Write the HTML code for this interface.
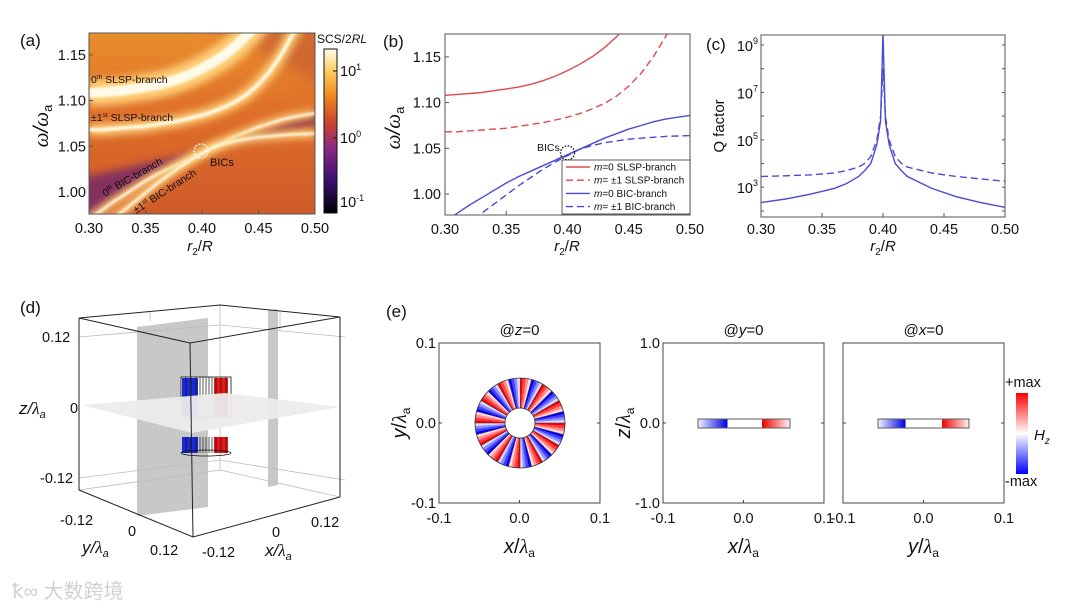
<!DOCTYPE html>
<html><head><meta charset="utf-8">
<style>
html,body{margin:0;padding:0;background:#fff;}
svg{display:block;font-family:"Liberation Sans","Noto Sans CJK SC",sans-serif;}
.t{font-size:14.5px;fill:#111}
.lab{font-size:17px;fill:#111}
.it{font-style:italic}
</style></head>
<body>
<svg id="fig" width="1080" height="608" viewBox="0 0 1080 608" xmlns="http://www.w3.org/2000/svg">
<defs>
<linearGradient id="bgA" x1="0" y1="0" x2="0" y2="1">
<stop offset="0" stop-color="#ea8e2c"/><stop offset="0.45" stop-color="#de6e28"/><stop offset="1" stop-color="#cf5a2a"/>
</linearGradient>
<linearGradient id="cbA" x1="0" y1="1" x2="0" y2="0">
<stop offset="0" stop-color="#000004"/><stop offset="0.2" stop-color="#3b0f6f"/><stop offset="0.4" stop-color="#8c2981"/><stop offset="0.55" stop-color="#c9442e"/><stop offset="0.72" stop-color="#f08a1f"/><stop offset="0.88" stop-color="#fcd36a"/><stop offset="1" stop-color="#fffdf0"/>
</linearGradient>
<linearGradient id="cbE" x1="0" y1="0" x2="0" y2="1">
<stop offset="0" stop-color="#ff0000"/><stop offset="0.5" stop-color="#ffffff"/><stop offset="1" stop-color="#0000ff"/>
</linearGradient>
<linearGradient id="blueBar" x1="0" y1="0" x2="1" y2="0"><stop offset="0" stop-color="#eef0ff"/><stop offset="1" stop-color="#0000e0"/></linearGradient>
<linearGradient id="redBar" x1="0" y1="0" x2="1" y2="0"><stop offset="0" stop-color="#f00000"/><stop offset="1" stop-color="#fff0f0"/></linearGradient>
<filter id="blur4" x="-20%" y="-20%" width="140%" height="140%"><feGaussianBlur stdDeviation="4"/></filter>
<filter id="blur8" x="-30%" y="-30%" width="160%" height="160%"><feGaussianBlur stdDeviation="8"/></filter>
<filter id="blur1"><feGaussianBlur stdDeviation="1"/></filter>
<clipPath id="clipA"><rect x="89" y="33" width="226" height="181"/></clipPath>
<clipPath id="clipB"><rect x="445" y="34" width="245" height="181"/></clipPath>
<clipPath id="clipC"><rect x="761" y="35" width="244" height="182"/></clipPath>
</defs>

<text x="20" y="46" class="lab">(a)</text>
<text x="383" y="47" class="lab">(b)</text>
<text x="706" y="50" class="lab">(c)</text>
<text x="20" y="313" class="lab">(d)</text>
<text x="386" y="317" class="lab">(e)</text>

<g id="panelA"></g>
<g id="panelB"></g>
<g id="panelC"></g>

<g id="panelD">
<polygon points="137,327 208,318 208,507 137,516" fill="#c8c8c8"/>
<polygon points="268,310 278,309 278,485 268,487" fill="#c8c8c8"/>
<g stroke="#bbb" stroke-width="0.8" fill="none">
<line x1="220" y1="305" x2="220" y2="470"/><line x1="79" y1="490" x2="220" y2="470"/><line x1="220" y1="470" x2="340" y2="497"/>
<line x1="79" y1="337" x2="220" y2="325"/><line x1="220" y1="325" x2="345" y2="337"/>
<line x1="79" y1="478" x2="220" y2="460"/><line x1="220" y1="460" x2="345" y2="480"/>
<line x1="150" y1="311" x2="150" y2="321"/><line x1="280" y1="311" x2="280" y2="330"/>
</g>
<g>
<rect x="181" y="377" width="50" height="40" fill="#fff" stroke="#111" stroke-width="0.8"/>
<rect x="182" y="378" width="16" height="38" fill="#1a2ad8"/>
<rect x="214" y="378" width="14" height="38" fill="#e81818"/>
<rect x="182" y="437" width="16" height="16" fill="#1a2ad8"/>
<rect x="214" y="437" width="14" height="16" fill="#e81818"/>
<g stroke="#111" stroke-width="0.7">
<line x1="186" y1="377" x2="186" y2="417"/><line x1="191" y1="377" x2="191" y2="417"/><line x1="196" y1="377" x2="196" y2="417"/><line x1="200" y1="377" x2="200" y2="417"/><line x1="203" y1="377" x2="203" y2="417"/><line x1="206" y1="377" x2="206" y2="417"/><line x1="209" y1="377" x2="209" y2="417"/><line x1="212" y1="377" x2="212" y2="417"/><line x1="216" y1="377" x2="216" y2="417"/><line x1="221" y1="377" x2="221" y2="417"/><line x1="226" y1="377" x2="226" y2="417"/>
<line x1="186" y1="437" x2="186" y2="453"/><line x1="191" y1="437" x2="191" y2="453"/><line x1="196" y1="437" x2="196" y2="453"/><line x1="200" y1="437" x2="200" y2="453"/><line x1="203" y1="437" x2="203" y2="453"/><line x1="206" y1="437" x2="206" y2="453"/><line x1="209" y1="437" x2="209" y2="453"/><line x1="212" y1="437" x2="212" y2="453"/><line x1="216" y1="437" x2="216" y2="453"/><line x1="221" y1="437" x2="221" y2="453"/><line x1="226" y1="437" x2="226" y2="453"/>
</g>
<ellipse cx="206" cy="453" rx="25" ry="3" fill="none" stroke="#111" stroke-width="0.8"/>
</g>
<polygon points="82,405 225,393 340,407 192,433" fill="#ececec" opacity="0.95"/>
<g stroke="#222" stroke-width="1" fill="none">
<polygon points="79,318 220,305 340,317 190,343"/>
<line x1="79" y1="318" x2="79" y2="490"/><line x1="190" y1="343" x2="193" y2="537"/><line x1="340" y1="317" x2="340" y2="497"/>
<polyline points="79,490 193,537 340,497"/>
</g>
<text x="42" y="342" class="t">0.12</text>
<text x="70" y="413" class="t">0</text>
<text x="40" y="483" class="t">-0.12</text>
<text x="19" y="414" class="lab it">z/<tspan font-family="Liberation Serif">λ</tspan><tspan font-size="11" dy="4">a</tspan></text>
<text x="60" y="525" class="t">-0.12</text>
<text x="128" y="536" class="t">0</text>
<text x="150" y="555" class="t">0.12</text>
<text x="82" y="553" class="lab it">y/<tspan font-family="Liberation Serif">λ</tspan><tspan font-size="11" dy="4">a</tspan></text>
<text x="202" y="557" class="t">-0.12</text>
<text x="272" y="537" class="t">0</text>
<text x="311" y="527" class="t">0.12</text>
<text x="265" y="556" class="lab it">x/<tspan font-family="Liberation Serif">λ</tspan><tspan font-size="11" dy="4">a</tspan></text>
</g>

<g id="panelE"></g>

<text x="12" y="598" font-size="20" fill="#d0d0d0">ꝁ∞ 大数跨境</text>
</svg>

<script>
var NS='http://www.w3.org/2000/svg';
function mk(parent,tag,attrs,name,inter){
  var el=document.createElementNS(NS,tag);
  for(var k in attrs) el.setAttribute(k,attrs[k]);
  
  
  parent.appendChild(el);return el;
}
function txt(parent,x,y,s,name,extra){
  var a={x:x,y:y,'class':'t'};var st='';
  for(var k in extra){ if(k==='font-size'){st+='font-size:'+extra[k]+'px;';} else a[k]=extra[k]; }
  if(st) a.style=st;
  var el=mk(parent,'text',a,name,false);el.innerHTML=s;return el;
}

// ---- data ----
var r2 = [0.30,0.31,0.32,0.33,0.34,0.35,0.36,0.37,0.38,0.39,0.40,0.41,0.42,0.43,0.44,0.45,0.46,0.47,0.48,0.49,0.50];
var m0SLSP = [1.108,1.109,1.110,1.111,1.113,1.115,1.117,1.120,1.124,1.129,1.135,1.142,1.150,1.160,1.172,1.186,1.200,1.220,1.240,1.260,1.280];
var m1SLSP = [1.068,1.068,1.069,1.070,1.071,1.072,1.074,1.076,1.078,1.081,1.084,1.088,1.093,1.099,1.107,1.118,1.132,1.150,1.172,1.195,1.220];
var m0BIC = [0.970,0.979,0.988,0.996,1.004,1.012,1.019,1.025,1.031,1.037,1.043,1.049,1.055,1.061,1.066,1.071,1.075,1.079,1.082,1.084,1.086];
var m1BIC = [0.955,0.962,0.970,0.979,0.989,0.999,1.009,1.018,1.027,1.035,1.042,1.049,1.053,1.056,1.058,1.060,1.061,1.062,1.063,1.0635,1.064];
var xTicks = [0.30,0.35,0.40,0.45,0.50];
var xTickLabels = ['0.30','0.35','0.40','0.45','0.50'];
var yTicks = [1.00,1.05,1.10,1.15];
var yTickLabels = ['1.00','1.05','1.10','1.15'];
var rQ = [0.30,0.32,0.34,0.36,0.37,0.38,0.385,0.39,0.395,0.398,0.40,0.402,0.405,0.41,0.415,0.42,0.44,0.46,0.48,0.50];
var qSolidLog = [2.35,2.5,2.7,2.95,3.15,3.45,3.7,4.0,4.8,5.8,9.5,5.8,4.8,4.0,3.7,3.45,2.95,2.6,2.35,2.15];
var qDashLog = [3.45,3.48,3.52,3.6,3.7,3.85,4.0,4.3,5.0,6.0,8.0,6.0,5.0,4.3,4.0,3.85,3.6,3.45,3.35,3.25];
var qTicksLog = [3,5,7,9];

function xA(v){return 89+(v-0.3)/0.2*226;}
function yA(v){return 192-(v-1.0)/0.05*45.7;}
function xB(v){return 445+(v-0.3)/0.2*245;}
function yB(v){return 194-(v-1.0)/0.05*45.7;}
function xC(v){return 761+(v-0.3)/0.2*244;}
function yC(l){return 45+(9-l)*23.7;}
function pathD(xs,ys,fx,fy){var d='';for(var i=0;i<xs.length;i++){d+=(i?'L':'M')+fx(xs[i]).toFixed(1)+','+fy(ys[i]).toFixed(1);}return d;}
var TITLE_Y='<tspan font-family="Liberation Serif">ω</tspan>/<tspan font-family="Liberation Serif">ω</tspan><tspan font-size="13" dy="4" font-style="normal">a</tspan>';
var TITLE_X='<tspan font-style="italic">r</tspan><tspan font-size="10" dy="4">2</tspan><tspan dy="-4">/</tspan><tspan font-style="italic">R</tspan>';

// ---- panel A ----
var A=document.getElementById('panelA');
var gA=mk(A,'g',{'clip-path':'url(#clipA)'},'heatmap-area',false);
mk(gA,'rect',{x:89,y:33,width:226,height:181,fill:'url(#bgA)'},'heatmap-background',false);
var up='';for(var i=0;i<=10;i++){up+='L'+xA(r2[i]).toFixed(1)+','+yA(m0BIC[i]+0.002).toFixed(1);}
var wedge1='M'+xA(0.28)+','+yA(1.012)+' L'+xA(0.30)+','+yA(0.97)+up+' L'+xA(0.40)+','+yA(1.045)+'Z';
mk(gA,'path',{d:wedge1,fill:'#6a2470',filter:'url(#blur4)',opacity:0.75},'dark-wedge-left',false);
var wedge2='M'+xA(0.41)+','+yA(1.05)+' L'+xA(0.52)+','+yA(1.095)+' L'+xA(0.52)+','+yA(1.078)+'Z';
mk(gA,'path',{d:wedge2,fill:'#7a2850',filter:'url(#blur4)',opacity:0.8},'dark-wedge-right',false);
mk(gA,'path',{d:'M'+xA(0.38)+','+yA(1.20)+' L'+xA(0.52)+','+yA(1.20)+' L'+xA(0.52)+','+yA(1.11)+'Z',fill:'#b84a38',filter:'url(#blur8)',opacity:0.5},'dark-region-top-right',false);
var seriesA=[[m0SLSP,26,10],[m1SLSP,12,3.5],[m0BIC,8,2.5],[m1BIC,8,2.5]];
var namesA=['glow-m0-slsp','glow-m1-slsp','glow-m0-bic','glow-m1-bic'];
for(var s=0;s<seriesA.length;s++){
  var d=pathD(r2,seriesA[s][0],xA,yA);
  mk(gA,'path',{d:d,fill:'none',stroke:'#ffd27a','stroke-width':seriesA[s][1],filter:'url(#blur4)'},namesA[s],false);
  mk(gA,'path',{d:d,fill:'none',stroke:'#fffbe8','stroke-width':seriesA[s][2],filter:'url(#blur1)'},namesA[s]+'-core',false);
}
mk(A,'rect',{x:89,y:33,width:226,height:181,fill:'none',stroke:'#555','stroke-width':1},'plot-frame-a',false);
for(var i=0;i<xTicks.length;i++){
  var x=xA(xTicks[i]);
  mk(A,'line',{x1:x,y1:214,x2:x,y2:210,stroke:'#555'},'x-tick-a',false);
  txt(A,x,233,xTickLabels[i],'x-tick-label-a',{'text-anchor':'middle'});
}
for(var i=0;i<yTicks.length;i++){
  var y=yA(yTicks[i]);
  mk(A,'line',{x1:89,y1:y,x2:93,y2:y,stroke:'#555'},'y-tick-a',false);
  txt(A,86,y+5,yTickLabels[i],'y-tick-label-a',{'text-anchor':'end'});
}
txt(A,0,0,TITLE_Y,'y-axis-title-a',{transform:'translate(48,126) rotate(-90)','text-anchor':'middle','font-size':'21','font-style':'italic'});
txt(A,200,251,TITLE_X,'x-axis-title-a',{'text-anchor':'middle','font-size':'15'});
txt(A,91,83,'0<tspan font-size="6.5" dy="-4">th</tspan><tspan dy="4"> SLSP-branch</tspan>','label-0th-slsp',{fill:'#fff','font-size':'10.5'});
txt(A,91,121,'±1<tspan font-size="6.5" dy="-4">st</tspan><tspan dy="4"> SLSP-branch</tspan>','label-1st-slsp',{fill:'#222','font-size':'10.5'});
txt(A,0,0,'0<tspan font-size="6.5" dy="-4">th</tspan><tspan dy="4"> BIC-branch</tspan>','label-0th-bic',{fill:'#fff','font-size':'10.5',transform:'translate(105,197) rotate(-30)'});
txt(A,0,0,'±1<tspan font-size="6.5" dy="-4">st</tspan><tspan dy="4"> BIC-branch</tspan>','label-1st-bic',{fill:'#fff','font-size':'10.5',transform:'translate(136,214) rotate(-33)'});
mk(A,'circle',{cx:201,cy:151,r:7,fill:'none',stroke:'#fff','stroke-width':1.5,'stroke-dasharray':'1.5,1.5'},'bics-marker-a',false);
txt(A,210,166,'BICs','bics-label-a',{fill:'#fff','font-size':'11'});
mk(A,'rect',{x:324,y:49,width:13,height:164,fill:'url(#cbA)',stroke:'#111','stroke-width':1},'colorbar-a',false);
var cbT=[[71,'10<tspan font-size="9" dy="-6">1</tspan>'],[138,'10<tspan font-size="9" dy="-6">0</tspan>'],[202,'10<tspan font-size="9" dy="-6">-1</tspan>']];
for(var i=0;i<cbT.length;i++){mk(A,'line',{x1:333,y1:cbT[i][0],x2:337,y2:cbT[i][0],stroke:'#111'},'colorbar-tick',false);txt(A,340,cbT[i][0]+5,cbT[i][1],'colorbar-label',{});}
txt(A,317,43,'SCS/2<tspan font-style="italic">RL</tspan>','colorbar-title',{'font-size':'12'});

// ---- panel B ----
var B=document.getElementById('panelB');
var gB=mk(B,'g',{'clip-path':'url(#clipB)'},'lines-b',false);
var seriesB=[[m0SLSP,'#e04a4a',''],[m1SLSP,'#e04a4a','7,4'],[m0BIC,'#4a4ad8',''],[m1BIC,'#4a4ad8','7,4']];
var namesB=['line-m0-slsp','line-m1-slsp','line-m0-bic','line-m1-bic'];
for(var s=0;s<seriesB.length;s++){
  var a={d:pathD(r2,seriesB[s][0],xB,yB),fill:'none',stroke:seriesB[s][1],'stroke-width':1.4};
  if(seriesB[s][2])a['stroke-dasharray']=seriesB[s][2];
  mk(gB,'path',a,namesB[s],false);
}
mk(B,'rect',{x:445,y:34,width:245,height:181,fill:'none',stroke:'#555'},'plot-frame-b',false);
for(var i=0;i<xTicks.length;i++){
  var x=xB(xTicks[i]);
  mk(B,'line',{x1:x,y1:215,x2:x,y2:211,stroke:'#555'},'x-tick-b',false);
  txt(B,x,234,xTickLabels[i],'x-tick-label-b',{'text-anchor':'middle'});
}
for(var i=0;i<yTicks.length;i++){
  var y=yB(yTicks[i]);
  mk(B,'line',{x1:445,y1:y,x2:449,y2:y,stroke:'#555'},'y-tick-b',false);
  txt(B,441,y+5,yTickLabels[i],'y-tick-label-b',{'text-anchor':'end'});
}
txt(B,0,0,TITLE_Y,'y-axis-title-b',{transform:'translate(400,128) rotate(-90)','text-anchor':'middle','font-size':'21','font-style':'italic'});
txt(B,567,251,TITLE_X,'x-axis-title-b',{'text-anchor':'middle','font-size':'15'});
mk(B,'circle',{cx:xB(0.40),cy:yB(1.045),r:7,fill:'none',stroke:'#111','stroke-width':1.3,'stroke-dasharray':'1.5,1.5'},'bics-marker-b',false);
txt(B,537,151,'BICs','bics-label-b',{'font-size':'10.5'});
var lg=mk(B,'g',{},'legend-b',false);
mk(lg,'rect',{x:562,y:160,width:128,height:54,fill:'#fff',stroke:'#333','stroke-width':0.8},'legend-box',false);
var legT=['=0 SLSP-branch','= ±1 SLSP-branch','=0 BIC-branch','= ±1 BIC-branch'];
for(var i=0;i<4;i++){
  var y=167+i*13.2;
  var a={x1:566,y1:y,x2:590,y2:y,stroke:seriesB[i][1],'stroke-width':1.4};
  if(seriesB[i][2])a['stroke-dasharray']=seriesB[i][2];
  mk(lg,'line',a,'legend-swatch',false);
  txt(lg,594,y+3.5,'<tspan font-style="italic">m</tspan>'+legT[i],'legend-entry',{'font-size':'10'});
}

// ---- panel C ----
var C=document.getElementById('panelC');
var gC=mk(C,'g',{'clip-path':'url(#clipC)'},'lines-c',false);
mk(gC,'path',{d:pathD(rQ,qSolidLog,xC,yC),fill:'none',stroke:'#4a4ad8','stroke-width':1.4},'line-q-m0',false);
mk(gC,'path',{d:pathD(rQ,qDashLog,xC,yC),fill:'none',stroke:'#4a4ad8','stroke-width':1.4,'stroke-dasharray':'7,4'},'line-q-m1',false);
mk(C,'rect',{x:761,y:35,width:244,height:182,fill:'none',stroke:'#555'},'plot-frame-c',false);
for(var i=0;i<xTicks.length;i++){
  var x=xC(xTicks[i]);
  mk(C,'line',{x1:x,y1:217,x2:x,y2:213,stroke:'#555'},'x-tick-c',false);
  txt(C,x,234,xTickLabels[i],'x-tick-label-c',{'text-anchor':'middle'});
}
for(var l=2;l<=9;l++){
  var y=yC(l);
  mk(C,'line',{x1:761,y1:y,x2:764,y2:y,stroke:'#555'},'y-tick-c',false);
  mk(C,'line',{x1:1005,y1:y,x2:1002,y2:y,stroke:'#555'},'y-tick-c-right',false);
}
for(var i=0;i<qTicksLog.length;i++){
  txt(C,758,yC(qTicksLog[i])+6,'10<tspan font-size="9" dy="-7">'+qTicksLog[i]+'</tspan>','y-tick-label-c',{'text-anchor':'end'});
}
txt(C,0,0,'Q factor','y-axis-title-c',{transform:'translate(724,126) rotate(-90)','text-anchor':'middle','font-size':'15'});
txt(C,883,251,TITLE_X,'x-axis-title-c',{'text-anchor':'middle','font-size':'15'});

// ---- panel E ----
var E=document.getElementById('panelE');
var plots=[{x:439,title:'@<tspan font-style="italic">z</tspan>=0',yl:['0.1','0.0','-0.1'],xa:'x',ya:'y'},
           {x:663,title:'@<tspan font-style="italic">y</tspan>=0',yl:['1.0','0.0','-1.0'],xa:'x',ya:'z'},
           {x:843,title:'@<tspan font-style="italic">x</tspan>=0',yl:null,xa:'y',ya:null}];
for(var p=0;p<3;p++){
  var P=plots[p],x0=P.x,w=161,yt=343,h=160;
  var g=mk(E,'g',{},'field-map-'+(p+1),false);
  mk(g,'rect',{x:x0,y:yt,width:w,height:h,fill:'#fff',stroke:'#444','stroke-width':1},'field-frame',false);
  txt(g,x0+w/2,335,P.title,'field-title',{'text-anchor':'middle','font-size':'15'});
  var xl=['-0.1','0.0','0.1'];
  for(var k=0;k<3;k++){
    var xx=x0+k*w/2;
    mk(g,'line',{x1:xx,y1:yt+h,x2:xx,y2:yt+h-3,stroke:'#444'},'x-tick-e',false);
    mk(g,'line',{x1:x0,y1:yt+k*h/2,x2:x0+3,y2:yt+k*h/2,stroke:'#444'},'y-tick-e',false);
    mk(g,'line',{x1:x0+w,y1:yt+k*h/2,x2:x0+w-3,y2:yt+k*h/2,stroke:'#444'},'y-tick-e-right',false);
    txt(g,xx,523,xl[k],'x-tick-label-e',{'text-anchor':'middle'});
    if(P.yl) txt(g,x0-3,yt+k*h/2+5,P.yl[k],'y-tick-label-e',{'text-anchor':'end'});
  }
  txt(g,x0+w/2,553,'<tspan font-style="italic">'+P.xa+'</tspan>/<tspan font-family="Liberation Serif" font-style="italic">λ</tspan><tspan font-size="12" dy="4">a</tspan>','x-axis-title-e',{'text-anchor':'middle','font-size':'20'});
  if(P.ya) txt(g,0,0,'<tspan font-style="italic">'+P.ya+'</tspan>/<tspan font-family="Liberation Serif" font-style="italic">λ</tspan><tspan font-size="12" dy="4">a</tspan>','y-axis-title-e',{transform:'translate('+(x0-33)+',423) rotate(-90)','text-anchor':'middle','font-size':'20'});
}
var cx=520,cy=423,R1=45,R0=15,N=24;
var ring=mk(E,'g',{},'ring-field',false);
for(var i=0;i<N;i++){
  for(var sub=0;sub<4;sub++){
    var a0=(i+sub/4)/N*2*Math.PI-Math.PI/2, a1=(i+(sub+1)/4)/N*2*Math.PI-Math.PI/2;
    var red=(i%2==0);
    var strength=[1,0.75,0.45,0.15][sub];
    var c=red?'rgb(255,'+Math.round(255*(1-strength))+','+Math.round(255*(1-strength))+')':'rgb('+Math.round(255*(1-strength))+','+Math.round(255*(1-strength))+',255)';
    var d='M'+(cx+R0*Math.cos(a0))+','+(cy+R0*Math.sin(a0))+'L'+(cx+R1*Math.cos(a0))+','+(cy+R1*Math.sin(a0))+'A'+R1+','+R1+' 0 0 1 '+(cx+R1*Math.cos(a1))+','+(cy+R1*Math.sin(a1))+'L'+(cx+R0*Math.cos(a1))+','+(cy+R0*Math.sin(a1))+'A'+R0+','+R0+' 0 0 0 '+(cx+R0*Math.cos(a0))+','+(cy+R0*Math.sin(a0))+'Z';
    mk(ring,'path',{d:d,fill:c},'ring-segment',false);
  }
  var a=i/N*2*Math.PI-Math.PI/2;
  mk(ring,'line',{x1:cx+R0*Math.cos(a),y1:cy+R0*Math.sin(a),x2:cx+R1*Math.cos(a),y2:cy+R1*Math.sin(a),stroke:'#333','stroke-width':0.6},'ring-divider',false);
}
mk(ring,'circle',{cx:cx,cy:cy,r:R1,fill:'none',stroke:'#333','stroke-width':0.8},'ring-outer',false);
mk(ring,'circle',{cx:cx,cy:cy,r:R0,fill:'#fff',stroke:'#333','stroke-width':0.8},'ring-inner',false);
var bars=[[698,727,762,790],[878,905,942,969]];
for(var b=0;b<2;b++){
  var q=bars[b];
  mk(E,'rect',{x:q[0],y:419,width:q[3]-q[0],height:9,fill:'#fff',stroke:'#333','stroke-width':0.8},'slab-outline',false);
  mk(E,'rect',{x:q[0]+0.5,y:419.5,width:q[1]-q[0],height:8,fill:'url(#blueBar)'},'slab-blue',false);
  mk(E,'rect',{x:q[2],y:419.5,width:q[3]-q[2]-0.5,height:8,fill:'url(#redBar)'},'slab-red',false);
}
mk(E,'rect',{x:1016,y:393,width:12,height:81,fill:'url(#cbE)'},'colorbar-e',false);
txt(E,1005,387,'+max','colorbar-max',{});
txt(E,1005,486,'-max','colorbar-min',{});
txt(E,1034,440,'<tspan font-style="italic">H</tspan><tspan font-size="10" dy="4" font-style="italic">z</tspan>','colorbar-title-e',{'font-size':'15'});
</script>
</body></html>
